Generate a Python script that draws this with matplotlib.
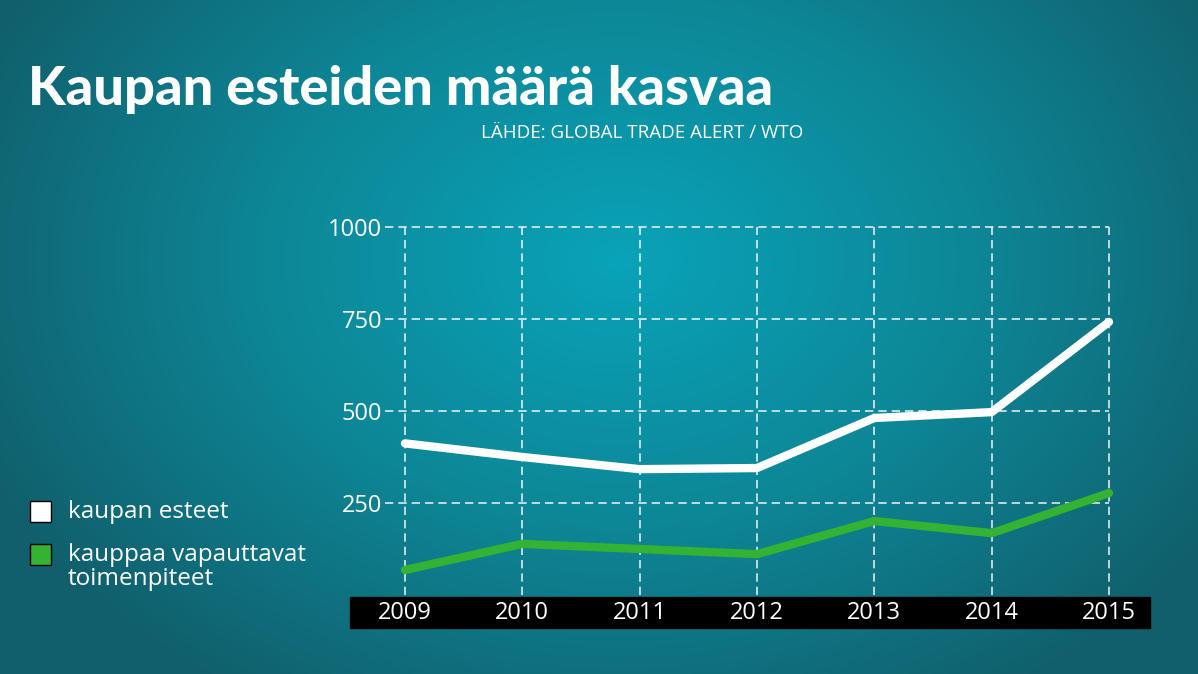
import numpy as np
import matplotlib
matplotlib.use("Agg")
import matplotlib.pyplot as plt
from matplotlib.colors import LinearSegmentedColormap
from matplotlib.patches import Rectangle

years = [2009, 2010, 2011, 2012, 2013, 2014, 2015]
barriers = [412, 375, 342, 345, 481, 497, 742]
liberalizing = [68, 139, 125, 111, 201, 168, 277]
yticks = [250, 500, 750, 1000]

W, H = 1198, 674
fig = plt.figure(figsize=(W/100, H/100), dpi=100)

bg = fig.add_axes([0, 0, 1, 1])
yy, xx = np.mgrid[0:H, 0:W]
r = np.sqrt(((xx-620)/700)**2 + ((yy-260)/520)**2)
cmap = LinearSegmentedColormap.from_list("bg", ["#09a3b9", "#0d8797", "#115f6c"])
bg.imshow(np.clip(r, 0, 1), cmap=cmap, aspect="auto", extent=[0, W, H, 0])
bg.set_xlim(0, W); bg.set_ylim(H, 0); bg.axis("off")
bg.add_patch(Rectangle((350, 597), 800, 31, color="black"))
for yr in years:
    px = 405 + (yr-2009)*704/6
    bg.text(px, 613, str(yr), color="white", fontsize=17, ha="center", va="center", family="Open Sans")
bg.text(28, 90, "Kaupan esteiden määrä kasvaa", color="white", fontsize=39, fontweight="black",
        family="Lato", va="center", ha="left")
bg.text(803, 133, "LÄHDE: GLOBAL TRADE ALERT / WTO", color="white", fontsize=13.5, family="Open Sans",
        ha="right", va="center")
bg.add_patch(Rectangle((30, 501), 21, 21, facecolor="white", edgecolor="black", lw=1))
bg.text(68, 512, "kaupan esteet", color="white", fontsize=17.5, family="Open Sans", va="center")
bg.add_patch(Rectangle((30, 544), 21, 21, facecolor="#33b233", edgecolor="black", lw=1))
bg.text(68, 567, "kauppaa vapauttavat\ntoimenpiteet", color="white", fontsize=17.5, family="Open Sans",
        va="center", linespacing=0.95)

l = 385/W; rgt = 1109/W; b = 1-595/H; t = 1-227/H
ax = fig.add_axes([l, b, rgt-l, t-b])
ax.patch.set_alpha(0)
ax.set_xlim(2009 - 20/(704/6), 2015)
ax.set_ylim(0, 1000)
for yv in yticks:
    ax.axhline(yv, color="white", ls=(0, (5, 3)), lw=1.2, alpha=0.85, clip_on=False)
for yr in years:
    ax.axvline(yr, color="white", ls=(0, (5, 3)), lw=1.2, alpha=0.85, clip_on=False)
ax.plot(years, barriers, color="white", lw=6, solid_capstyle="round", solid_joinstyle="round", clip_on=False)
ax.plot(years, liberalizing, color="#33b233", lw=6, solid_capstyle="round", solid_joinstyle="round", clip_on=False)
for s in ax.spines.values():
    s.set_visible(False)
ax.set_xticks([])
ax.set_yticks(yticks)
ax.set_yticklabels([str(v) for v in yticks], color="white", fontsize=17, family="Open Sans")
ax.tick_params(axis="y", length=0, pad=2)
fig.savefig("out.png", dpi=100)
